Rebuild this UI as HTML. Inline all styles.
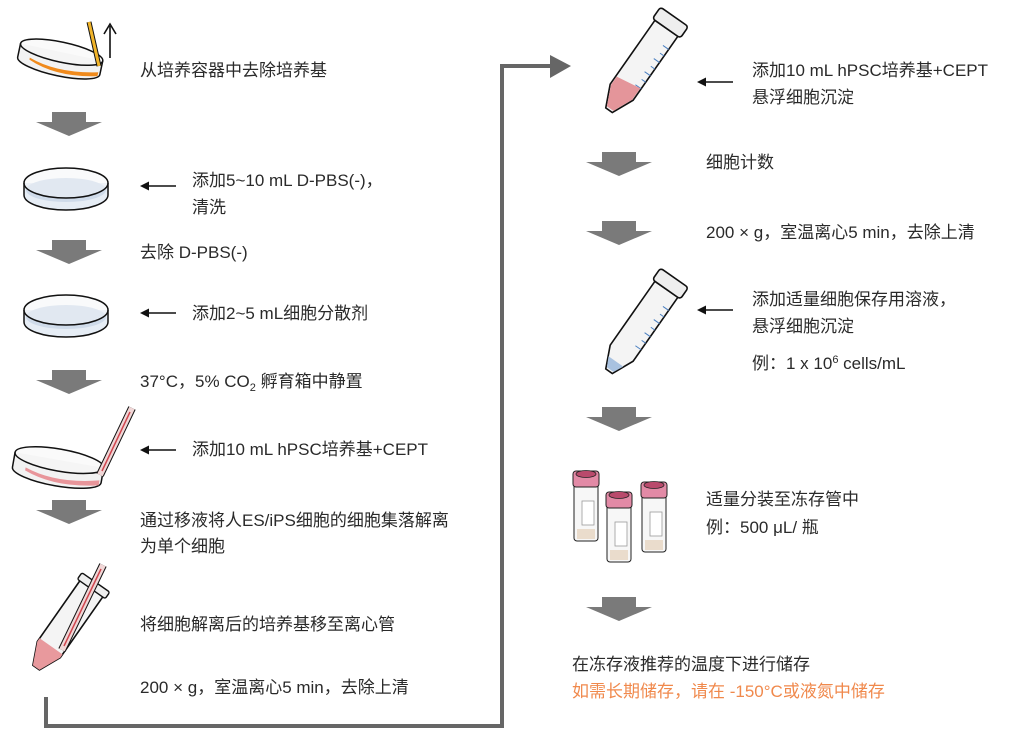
<!DOCTYPE html>
<html><head><meta charset="utf-8"><style>
html,body{margin:0;padding:0;background:#fff;}
svg{display:block;}
text{font-family:"Liberation Sans","Noto Sans CJK SC",sans-serif;font-size:17px;fill:#2a2a2a;}
</style></head><body>
<svg width="1014" height="739" viewBox="0 0 1014 739" xmlns="http://www.w3.org/2000/svg">
<defs>
<g id="garrow"><polygon points="16,0 50,0 50,10 66,10 33,24 0,10 16,10" fill="#7a7a7a"/></g>
<g id="larrow"><line x1="6" y1="0" x2="36" y2="0" stroke="#111" stroke-width="1.6"/><polygon points="0,0 9,-4.5 9,4.5" fill="#111"/></g>
<g id="dish">
<path d="M0,20 L0,32 A42,15 0 0 0 84,32 L84,20" fill="#e6edf5" stroke="#111" stroke-width="1.5"/>
<ellipse cx="42" cy="27" rx="40" ry="12" fill="#cfdbea"/>
<ellipse cx="42" cy="20" rx="42" ry="15" fill="#f3f5f8" fill-opacity="0.5" stroke="#111" stroke-width="1.5"/>
</g>
<g id="tube">
<path d="M-14,-46 L-14,32 L-4,54 L4,54 L14,32 L14,-46 Z" fill="#f4f4f4" stroke="#111" stroke-width="1.6"/>
<rect x="-17" y="-60" width="34" height="14" rx="3" fill="#eee" stroke="#111" stroke-width="1.6"/>
<g stroke="#4a7fc0" stroke-width="1">
<line x1="14" y1="-30" x2="7" y2="-30"/><line x1="14" y1="-22" x2="9" y2="-22"/><line x1="14" y1="-14" x2="7" y2="-14"/><line x1="14" y1="-6" x2="9" y2="-6"/><line x1="14" y1="2" x2="7" y2="2"/><line x1="14" y1="10" x2="9" y2="10"/><line x1="14" y1="18" x2="7" y2="18"/>
</g>
</g>
<g id="vial">
<rect x="0" y="12" width="24" height="58" rx="3" fill="#f7f7f7" stroke="#222" stroke-width="1"/>
<rect x="3" y="58" width="18" height="10" fill="#eadccc"/>
<rect x="8" y="30" width="12" height="24" fill="#fff" stroke="#999" stroke-width="0.8"/>
<rect x="-1" y="0" width="26" height="16" rx="3" fill="#e28aa6" stroke="#222" stroke-width="1"/>
<ellipse cx="12" cy="3" rx="10" ry="3.5" fill="#b94a6c" stroke="#222" stroke-width="0.8"/>
</g>
</defs>

<g transform="translate(60,60) rotate(12)">
<path d="M-42,-8 L-42,6 A42,10 0 0 0 42,6 L42,-8" fill="#f2f2f2" stroke="#111" stroke-width="1.5"/>
<path d="M-30,4 Q0,14 40,4 L40,8 Q0,18 -30,6Z" fill="#f08a1c"/>
<ellipse cx="0" cy="-8" rx="42" ry="10" fill="#f7f7f7" fill-opacity="0.6" stroke="#111" stroke-width="1.5"/>
</g>
<line x1="89" y1="22" x2="99" y2="66" stroke="#111" stroke-width="5"/>
<line x1="89" y1="22" x2="99" y2="66" stroke="#f1b429" stroke-width="3"/>
<line x1="110" y1="58" x2="110" y2="26" stroke="#111" stroke-width="1.6"/>
<polyline points="104,34 110,24 116,34" fill="none" stroke="#111" stroke-width="1.6"/>
<text x="140" y="76">从培养容器中去除培养基</text>

<use href="#garrow" x="36" y="112"/>
<use href="#dish" x="24" y="163"/>
<use href="#larrow" x="140" y="186"/>
<text x="192" y="186">添加5~10 mL D-PBS(-)，</text>
<text x="192" y="213">清洗</text>

<use href="#garrow" x="36" y="240"/>
<text x="140" y="258">去除 D-PBS(-)</text>
<use href="#dish" x="24" y="290"/>
<use href="#larrow" x="140" y="313"/>
<text x="192" y="319">添加2~5 mL细胞分散剂</text>

<use href="#garrow" x="36" y="370"/>
<text x="140" y="387">37°C，5% CO<tspan font-size="11" dy="4">2</tspan><tspan dy="-4"> 孵育箱中静置</tspan></text>

<g transform="translate(58,468) rotate(10)">
<path d="M-45,-8 L-45,7 A45,11 0 0 0 45,7 L45,-8" fill="#f2f2f2" stroke="#111" stroke-width="1.5"/>
<path d="M-32,5 Q0,16 43,5 L43,10 Q0,20 -32,8Z" fill="#e8959a"/>
<ellipse cx="0" cy="-8" rx="45" ry="11" fill="#f7f7f7" fill-opacity="0.6" stroke="#111" stroke-width="1.5"/>
</g>
<line x1="132" y1="408" x2="100" y2="475" stroke="#111" stroke-width="8"/>
<line x1="132" y1="408" x2="100" y2="475" stroke="#f1d7d7" stroke-width="6"/>
<line x1="130" y1="412" x2="102" y2="471" stroke="#d0464f" stroke-width="1.5"/>
<use href="#larrow" x="140" y="450"/>
<text x="192" y="455">添加10 mL hPSC培养基+CEPT</text>

<use href="#garrow" x="36" y="500"/>
<text x="140" y="526">通过移液将人ES/iPS细胞的细胞集落解离</text>
<text x="140" y="552">为单个细胞</text>

<g transform="translate(66,625) rotate(35)">
<path d="M-14,-45 L-14,30 L-4,52 L4,52 L14,30 L14,-45 Z" fill="#f4f4f4" stroke="#111" stroke-width="1.6"/>
<path d="M-14,30 L-4,52 L4,52 L14,30 L14,26 L-14,26 Z" fill="#e8999d"/>
<rect x="-17" y="-52" width="34" height="8" rx="2" fill="#eee" stroke="#111" stroke-width="1.4"/>
</g>
<line x1="103" y1="565" x2="62" y2="650" stroke="#111" stroke-width="8"/>
<line x1="103" y1="565" x2="62" y2="650" stroke="#f1d7d7" stroke-width="6"/>
<line x1="101" y1="569" x2="64" y2="646" stroke="#d0464f" stroke-width="1.5"/>
<text x="140" y="630">将细胞解离后的培养基移至离心管</text>
<text x="140" y="693">200 × g，室温离心5 min，去除上清</text>

<polyline points="46,697 46,726 502,726 502,66 552,66" fill="none" stroke="#666" stroke-width="4"/>
<polygon points="550,55 571,66 550,78" fill="#666"/>

<g transform="translate(640,66) rotate(35)">
<use href="#tube"/>
<path d="M-13,22 L-13,32 L-4,52 L4,52 L13,32 L13,18 Z" fill="#e4959a"/>
</g>
<use href="#larrow" x="697" y="82"/>
<text x="752" y="76">添加10 mL hPSC培养基+CEPT</text>
<text x="752" y="103">悬浮细胞沉淀</text>

<use href="#garrow" x="586" y="152"/>
<text x="706" y="168">细胞计数</text>
<use href="#garrow" x="586" y="221"/>
<text x="706" y="238">200 × g，室温离心5 min，去除上清</text>

<g transform="translate(640,327) rotate(35)">
<use href="#tube"/>
<path d="M-9,42 L-4,52 L4,52 L9,42 Z" fill="#a9c2e0"/>
</g>
<use href="#larrow" x="697" y="310"/>
<text x="752" y="305">添加适量细胞保存用溶液，</text>
<text x="752" y="332">悬浮细胞沉淀</text>
<text x="752" y="369">例：1 x 10<tspan font-size="11" dy="-6">6</tspan><tspan dy="6"> cells/mL</tspan></text>

<use href="#garrow" x="586" y="407"/>
<use href="#vial" x="574" y="471"/>
<use href="#vial" x="607" y="492"/>
<use href="#vial" x="642" y="482"/>
<text x="706" y="505">适量分装至冻存管中</text>
<text x="706" y="533">例：500 μL/ 瓶</text>

<use href="#garrow" x="586" y="597"/>
<text x="572" y="670">在冻存液推荐的温度下进行储存</text>
<text x="572" y="697" style="fill:#f0894c">如需长期储存，请在 -150°C或液氮中储存</text>
</svg>
</body></html>
